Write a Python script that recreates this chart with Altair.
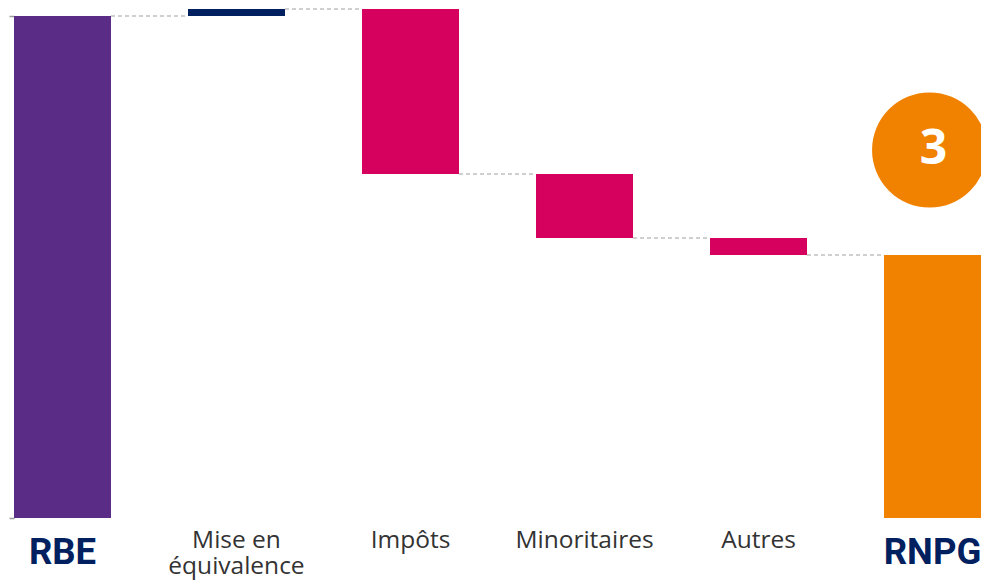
import altair as alt
import pandas as pd

# ---- data ----
categories = ["RBE", "Mise en équivalence", "Impôts", "Minoritaires", "Autres", "RNPG"]
labels = ["RBE", "Mise en\néquivalence", "Impôts", "Minoritaires", "Autres", "RNPG"]
deltas = [502, 7, -165, -64, -17, 263]
kinds = ["total", "delta", "delta", "delta", "delta", "total"]
bar_colors = ["#5B2C86", "#002060", "#D6005F", "#D6005F", "#D6005F", "#F08200"]
label_kind = ["bold", "regular", "regular", "regular", "regular", "bold"]
axis_ticks = [0, 502]
badge_x = [4.983]
badge_value = [368]
badge_text = ["3"]

HALF = 0.2787  # half bar width, in category steps

# ---- build waterfall table ----
starts, ends = [], []
running = 0
for d, k in zip(deltas, kinds):
    if k == "total":
        s, e = 0, d
        running = d
    else:
        s, e = running, running + d
        running = e
    starts.append(s)
    ends.append(e)

idx = list(range(len(categories)))
df = pd.DataFrame({
    "cat": categories,
    "idx": idx,
    "x0": [i - HALF for i in idx],
    "x1": [i + HALF for i in idx],
    "label": labels,
    "start": starts,
    "end": ends,
    "color": bar_colors,
    "kind": label_kind,
})
reg_df = df[df["kind"] == "regular"].reset_index(drop=True)
bold_df = df[df["kind"] == "bold"].reset_index(drop=True)

conn = pd.DataFrame({
    "x0": [i + HALF for i in idx[:-1]],
    "x1": [i + 1 - HALF for i in idx[:-1]],
    "level": ends[:-1],
})

badge = pd.DataFrame({"bx": badge_x, "v": badge_value, "t": badge_text})

FONT = "Open Sans"
xscale = alt.Scale(domain=[-0.3132, 5.2787], nice=False, zero=False)
yscale = alt.Scale(domain=[-62, 510], nice=False, zero=False)

bars = alt.Chart(df).mark_bar().encode(
    x=alt.X("x0:Q", scale=xscale, axis=None),
    x2="x1:Q",
    y=alt.Y("start:Q", scale=yscale,
            axis=alt.Axis(orient="left", values=axis_ticks, labels=False, domain=False,
                          grid=False, ticks=True, tickSize=5, tickColor="#9A9A9A",
                          tickWidth=1.5, offset=-6, title=None)),
    y2="end:Q",
    color=alt.Color("color:N", scale=None),
)

connectors = alt.Chart(conn).mark_rule(
    color="#A0A0A0", strokeDash=[4, 3], strokeWidth=1
).encode(
    x=alt.X("x0:Q", scale=xscale, axis=None),
    x2="x1:Q",
    y=alt.Y("level:Q", scale=yscale),
)

reg_labels = alt.Chart(reg_df).mark_text(
    font=FONT, fontSize=24.5, color="#333333", baseline="alphabetic",
    lineBreak="\n", lineHeight=26, align="center", clip=True
).encode(
    x=alt.X("idx:Q", scale=xscale, axis=None),
    y=alt.value(540),
    text="label:N",
)

bold_lab = alt.Chart(bold_df).mark_text(
    font="Roboto", fontSize=36.5, fontWeight="bold", color="#002060",
    baseline="alphabetic", align="center", clip=True
).encode(
    x=alt.X("idx:Q", scale=xscale, axis=None),
    y=alt.value(556),
    text="label:N",
)

circle = alt.Chart(badge).mark_circle(size=13225, opacity=1, color="#F08200", clip=True).encode(
    x=alt.X("bx:Q", scale=xscale, axis=None),
    y=alt.Y("v:Q", scale=yscale),
)

circle_text = alt.Chart(badge).mark_text(
    font=FONT, fontSize=48, fontWeight="bold", color="white", baseline="middle",
    align="center", dx=4, clip=True
).encode(
    x=alt.X("bx:Q", scale=xscale, axis=None),
    y=alt.Y("v:Q", scale=yscale),
    text="t:N",
)

chart = alt.layer(connectors, bars, reg_labels, bold_lab, circle, circle_text).properties(
    width=973, height=572,
    padding=0,
    background="white",
).configure_view(strokeWidth=0)

chart.save("out.html", embed_options={"renderer": "svg", "actions": False})
